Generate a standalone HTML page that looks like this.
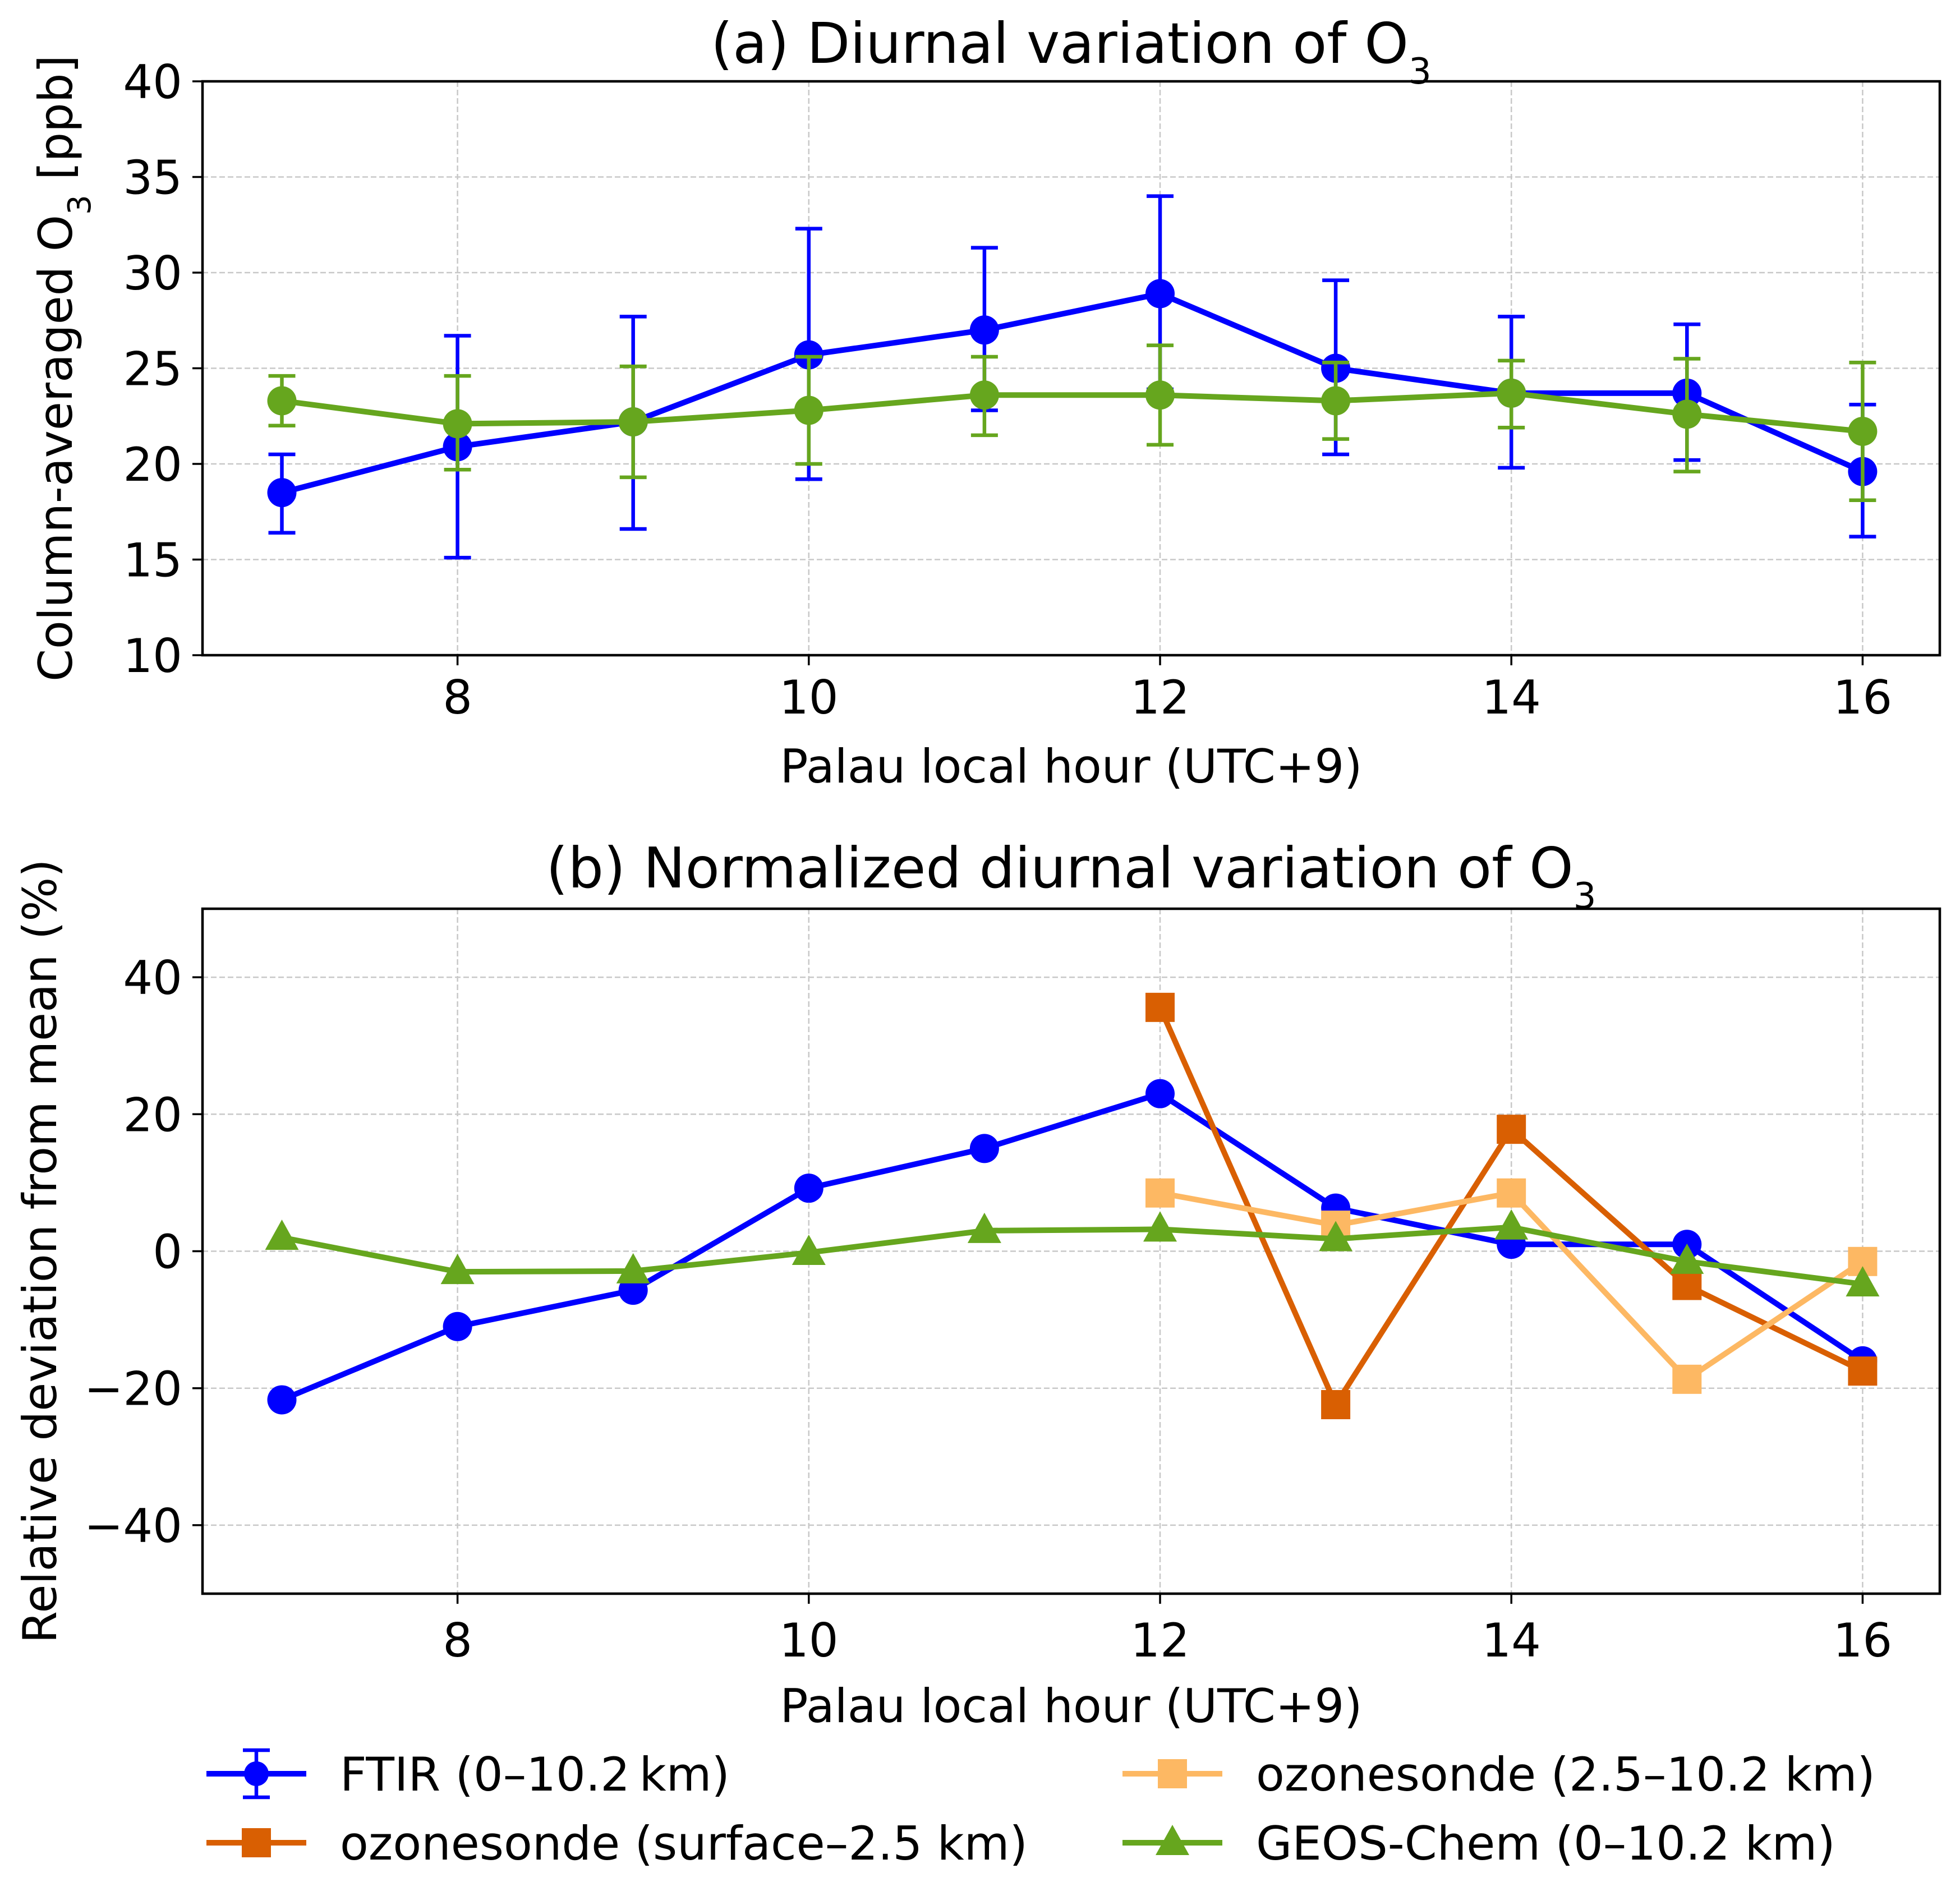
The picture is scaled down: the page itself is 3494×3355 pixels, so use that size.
<!DOCTYPE html>
<html><head><meta charset="utf-8"><style>
html,body{margin:0;padding:0;background:#fff}
svg{display:block;font-family:"DejaVu Sans","Liberation Sans",sans-serif}
</style></head><body>
<svg id="chart" width="3494" height="3355" viewBox="0 0 3494 3355" xmlns="http://www.w3.org/2000/svg">
<rect width="3494" height="3355" fill="#fff"/>
<g id="pa"></g>
<g id="pb"></g>
<g id="legend"></g>
</svg>
<script>
const hours = [7,8,9,10,11,12,13,14,15,16];
const ftirA = [18.5,20.9,22.2,25.7,27.0,28.9,25.0,23.7,23.7,19.6];
const ftirLo = [16.4,15.1,16.6,19.2,22.8,23.9,20.5,19.8,20.2,16.2];
const ftirHi = [20.5,26.7,27.7,32.3,31.3,34.0,29.6,27.7,27.3,23.1];
const geosA = [23.3,22.1,22.2,22.8,23.6,23.6,23.3,23.7,22.6,21.7];
const geosLo = [22.0,19.7,19.3,20.0,21.5,21.0,21.3,21.9,19.6,18.1];
const geosHi = [24.6,24.6,25.1,25.6,25.6,26.2,25.3,25.4,25.5,25.3];
const ftirB = [-21.7,-11,-5.7,9.2,15,23,6.3,1,1,-16];
const sondeHours = [12,13,14,15,16];
const sondeSfc = [35.6,-22.4,17.8,-5,-17.5];
const sondeUp = [8.5,3.8,8.5,-18.7,-1.5];
const geosB = [2,-3,-2.9,-0.2,3,3.2,1.8,3.5,-1.5,-4.8];
const xTicks = [8,10,12,14,16];
const yTicksA = [10,15,20,25,30,35,40];
const yTicksB = [-40,-20,0,20,40];

const NS="http://www.w3.org/2000/svg";
const BLUE="#0000ff", GREEN="#66a61e", DORANGE="#d95f02", LORANGE="#fdb863";
const FS=83, TFS=100;
function mk(parent,tag,attrs){const e=document.createElementNS(NS,tag);for(const k in attrs)e.setAttribute(k,attrs[k]);parent.appendChild(e);return e;}
const L=361,R=3458;
const xs=h=>815.6 + (h-8)*313.1;

function axesFrame(g,top,bot,yMin,yMax,yTicks,title,ylabel,ylabelX,tickBase,xlabBase,titleBase){
  const ys=v=>bot-(v-yMin)/(yMax-yMin)*(bot-top);
  xTicks.forEach(t=>{
    const gl=mk(g,'line',{x1:xs(t),x2:xs(t),y1:top,y2:bot,stroke:'#c8c8c8','stroke-width':2.5,'stroke-dasharray':'10,5'});
    
    
    const tk=mk(g,'line',{x1:xs(t),x2:xs(t),y1:bot,y2:bot+18,stroke:'#000','stroke-width':3.5});
    
    
    const tl=mk(g,'text',{x:xs(t),y:tickBase,'font-size':FS,'text-anchor':'middle'});tl.textContent=t;
    
    
  });
  yTicks.forEach(t=>{
    const gl=mk(g,'line',{x1:L,x2:R,y1:ys(t),y2:ys(t),stroke:'#c8c8c8','stroke-width':2.5,'stroke-dasharray':'10,5'});
    
    
    const tk=mk(g,'line',{x1:L-18,x2:L,y1:ys(t),y2:ys(t),stroke:'#000','stroke-width':3.5});
    
    
    const tl=mk(g,'text',{x:L-36,y:ys(t)+30,'font-size':FS,'text-anchor':'end'});tl.textContent=String(t).replace('-','\u2212');
    
    
  });
  const fr=mk(g,'rect',{x:L,y:top,width:R-L,height:bot-top,fill:'none',stroke:'#000','stroke-width':4.5});
  
  
  const tt=mk(g,'text',{x:(L+R)/2,y:titleBase,'font-size':TFS,'text-anchor':'middle'});tt.innerHTML=title;
  
  
  const xl=mk(g,'text',{x:(L+R)/2,y:xlabBase,'font-size':FS,'text-anchor':'middle'});xl.textContent='Palau local hour (UTC+9)';
  
  
  const yc=(top+bot)/2;
  const yl=mk(g,'text',{x:ylabelX,y:yc,'font-size':FS,'text-anchor':'middle',transform:`rotate(-90 ${ylabelX} ${yc})`});yl.innerHTML=ylabel;
  
  
  return ys;
}
function line(g,xv,yv,ys,color,name){
  const p=mk(g,'polyline',{points:xv.map((h,i)=>xs(h)+','+ys(yv[i])).join(' '),fill:'none',stroke:color,'stroke-width':10,'stroke-linejoin':'round'});
  
  
}
function markers(g,xv,yv,ys,color,shape,name){
  xv.forEach((h,i)=>{
    const x=xs(h),y=ys(yv[i]);let m;
    if(shape==='c')m=mk(g,'circle',{cx:x,cy:y,r:26,fill:color});
    else if(shape==='s')m=mk(g,'rect',{x:x-26,y:y-26,width:52,height:52,fill:color});
    else m=mk(g,'polygon',{points:`${x},${y-32} ${x+30},${y+22} ${x-30},${y+22}`,fill:color});
    
    
  });
}
function errbars(g,xv,lo,hi,ys,color,name){
  xv.forEach((h,i)=>{
    const x=xs(h);
    const eg=mk(g,'g',{stroke:color,'stroke-width':6.5});
    
    
    mk(eg,'line',{x1:x,x2:x,y1:ys(lo[i]),y2:ys(hi[i])});
    mk(eg,'line',{x1:x-24,x2:x+24,y1:ys(lo[i]),y2:ys(lo[i])});
    mk(eg,'line',{x1:x-24,x2:x+24,y1:ys(hi[i]),y2:ys(hi[i])});
  });
}
const ga=document.getElementById('pa');
const ysA=axesFrame(ga,145,1168,10,40,yTicksA,'(a) Diurnal variation of O<tspan baseline-shift="sub" font-size="64">3</tspan>','Column-averaged O<tspan baseline-shift="sub" font-size="56">3</tspan> [ppb]',128,1272,1395,112);
errbars(ga,hours,ftirLo,ftirHi,ysA,BLUE,'ftir-errorbar');
line(ga,hours,ftirA,ysA,BLUE,'ftir-line');
markers(ga,hours,ftirA,ysA,BLUE,'c','ftir-point');
errbars(ga,hours,geosLo,geosHi,ysA,GREEN,'geos-errorbar');
line(ga,hours,geosA,ysA,GREEN,'geos-line');
markers(ga,hours,geosA,ysA,GREEN,'c','geos-point');
const gb=document.getElementById('pb');
const ysB=axesFrame(gb,1620,2841,-50,50,yTicksB,'(b) Normalized diurnal variation of O<tspan baseline-shift="sub" font-size="64">3</tspan>','Relative deviation from mean (%)',100,2953,3070,1582);
line(gb,hours,ftirB,ysB,BLUE,'ftir-line');
markers(gb,hours,ftirB,ysB,BLUE,'c','ftir-point');
line(gb,sondeHours,sondeSfc,ysB,DORANGE,'sonde-surface-line');
markers(gb,sondeHours,sondeSfc,ysB,DORANGE,'s','sonde-surface-point');
line(gb,sondeHours,sondeUp,ysB,LORANGE,'sonde-upper-line');
markers(gb,sondeHours,sondeUp,ysB,LORANGE,'s','sonde-upper-point');
line(gb,hours,geosB,ysB,GREEN,'geos-line');
markers(gb,hours,geosB,ysB,GREEN,'t','geos-point');
const lg=document.getElementById('legend');
const entries=[
 {x:368,y:3162,c:BLUE,s:'c',t:'FTIR (0\u201310.2\u2009km)',eb:true},
 {x:368,y:3285,c:DORANGE,s:'s',t:'ozonesonde (surface\u20132.5 km)'},
 {x:2001,y:3162,c:LORANGE,s:'s',t:'ozonesonde (2.5\u201310.2 km)'},
 {x:2001,y:3285,c:GREEN,s:'t',t:'GEOS-Chem (0\u201310.2 km)'}];
entries.forEach(e=>{
  const g=mk(lg,'g',{});
  
  
  const cx=e.x+89,y=e.y;
  if(e.eb){mk(g,'line',{x1:cx,x2:cx,y1:y-42,y2:y+42,stroke:e.c,'stroke-width':6.5});
    mk(g,'line',{x1:cx-24,x2:cx+24,y1:y-42,y2:y-42,stroke:e.c,'stroke-width':6.5});
    mk(g,'line',{x1:cx-24,x2:cx+24,y1:y+42,y2:y+42,stroke:e.c,'stroke-width':6.5});}
  mk(g,'line',{x1:e.x,x2:e.x+178,y1:y,y2:y,stroke:e.c,'stroke-width':10});
  if(e.s==='c')mk(g,'circle',{cx:cx,cy:y,r:22,fill:e.c});
  else if(e.s==='s')mk(g,'rect',{x:cx-26,y:y-26,width:52,height:52,fill:e.c});
  else mk(g,'polygon',{points:`${cx},${y-32} ${cx+30},${y+22} ${cx-30},${y+22}`,fill:e.c});
  const t=mk(g,'text',{x:e.x+238,y:y+30,'font-size':FS});t.textContent=e.t;
});
</script>
</body></html>
